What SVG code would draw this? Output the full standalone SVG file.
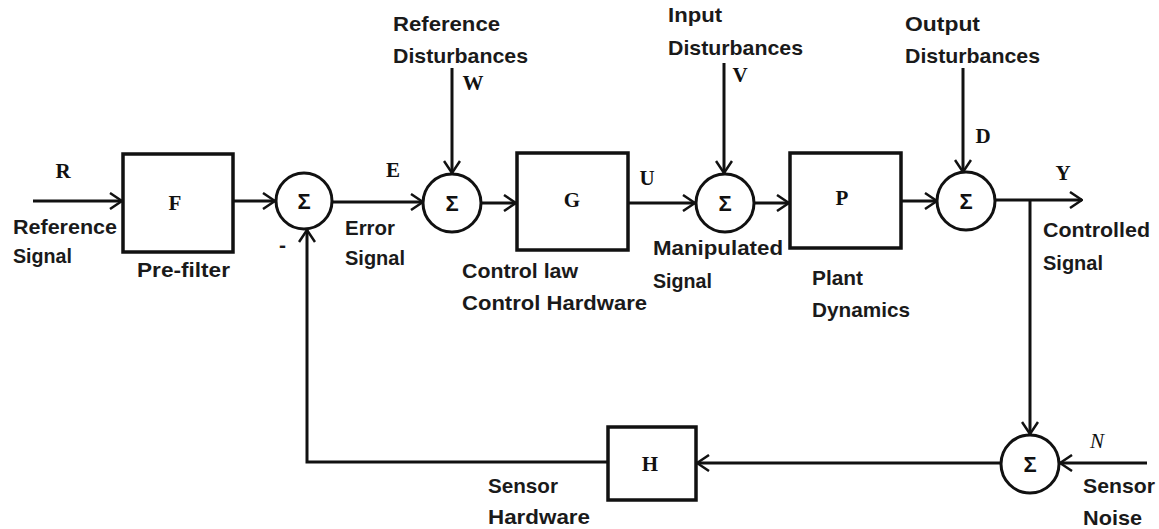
<svg xmlns="http://www.w3.org/2000/svg" width="1159" height="529" viewBox="0 0 1159 529">
<style>
.lbl{font-family:"Liberation Sans",Arial,sans-serif;font-weight:bold;font-size:21px;fill:#1a1a1a}
.sym{font-family:"Liberation Serif","Times New Roman",serif;font-weight:bold;font-size:21px;fill:#111;text-anchor:middle}
.sig{font-family:"Liberation Sans",Arial,sans-serif;font-weight:bold;font-size:22px;fill:#111;text-anchor:middle}
.box{fill:#fff;stroke:#111;stroke-width:3.5}
.sum{fill:#fff;stroke:#111;stroke-width:3}
.wire{fill:none;stroke:#111;stroke-width:3}
.arr{marker-end:url(#ah)}
</style>
<defs>
<marker id="ah" markerUnits="userSpaceOnUse" viewBox="0 0 14 18" markerWidth="14" markerHeight="18" refX="13" refY="9" orient="auto">
<path d="M1,1 L13,9 L1,17" fill="none" stroke="#111" stroke-width="2.5"/>
</marker>
</defs>
<rect width="1159" height="529" fill="#fff"/>
<g id="connectors">
<path class="wire arr" d="M33,201 H122"/>
<path class="wire arr" d="M233,201 H275"/>
<path class="wire arr" d="M333,202 H423"/>
<path class="wire arr" d="M452,68 V173"/>
<path class="wire arr" d="M481,203 H516"/>
<path class="wire arr" d="M628,203 H695"/>
<path class="wire arr" d="M724,63 V173"/>
<path class="wire arr" d="M754,203 H789"/>
<path class="wire arr" d="M901,201 H937"/>
<path class="wire arr" d="M963,68 V172"/>
<path class="wire arr" d="M995,200 H1082"/>
<path class="wire arr" d="M1030,200 V434"/>
<path class="wire arr" d="M1147,463 H1060"/>
<path class="wire arr" d="M1001,463 H697"/>
<path class="wire arr" d="M608,462 H307 V230"/>
</g>
<g id="node-F"><rect class="box" x="123" y="154" width="110" height="98"/><text class="sym" x="175" y="210">F</text></g>
<g id="node-sum1"><circle class="sum" cx="304" cy="201" r="28"/><text class="sig" x="304" y="209">Σ</text></g>
<g id="node-sum2"><circle class="sum" cx="452" cy="203" r="29"/><text class="sig" x="452" y="211">Σ</text></g>
<g id="node-G"><rect class="box" x="517" y="153" width="111" height="97"/><text class="sym" x="572" y="207">G</text></g>
<g id="node-sum3"><circle class="sum" cx="725" cy="203" r="29"/><text class="sig" x="725" y="211">Σ</text></g>
<g id="node-P"><rect class="box" x="790" y="153" width="111" height="95"/><text class="sym" x="842" y="205">P</text></g>
<g id="node-sum4"><circle class="sum" cx="966" cy="201" r="29"/><text class="sig" x="966" y="209">Σ</text></g>
<g id="node-sum5"><circle class="sum" cx="1030" cy="464" r="29"/><text class="sig" x="1030" y="472">Σ</text></g>
<g id="node-H"><rect class="box" x="608" y="427" width="88" height="73"/><text class="sym" x="650" y="471">H</text></g>
<g id="labels">
<text class="sym" x="63" y="178">R</text>
<text class="lbl" x="13" y="234" textLength="104" lengthAdjust="spacingAndGlyphs">Reference</text>
<text class="lbl" x="13" y="263" textLength="59" lengthAdjust="spacingAndGlyphs">Signal</text>
<text class="lbl" x="137" y="277" textLength="93" lengthAdjust="spacingAndGlyphs">Pre-filter</text>
<text class="lbl" x="279" y="252">-</text>
<text class="sym" x="393" y="177">E</text>
<text class="lbl" x="345" y="235" textLength="50" lengthAdjust="spacingAndGlyphs">Error</text>
<text class="lbl" x="345" y="265" textLength="60" lengthAdjust="spacingAndGlyphs">Signal</text>
<text class="lbl" x="393" y="31" textLength="107" lengthAdjust="spacingAndGlyphs">Reference</text>
<text class="lbl" x="393" y="63" textLength="135" lengthAdjust="spacingAndGlyphs">Disturbances</text>
<text class="sym" x="473" y="90">W</text>
<text class="sym" x="647" y="185">U</text>
<text class="lbl" x="462" y="278" textLength="116" lengthAdjust="spacingAndGlyphs">Control law</text>
<text class="lbl" x="462" y="310" textLength="185" lengthAdjust="spacingAndGlyphs">Control Hardware</text>
<text class="lbl" x="668" y="22" textLength="54" lengthAdjust="spacingAndGlyphs">Input</text>
<text class="lbl" x="668" y="55" textLength="135" lengthAdjust="spacingAndGlyphs">Disturbances</text>
<text class="sym" x="740" y="82">V</text>
<text class="lbl" x="653" y="255" textLength="130" lengthAdjust="spacingAndGlyphs">Manipulated</text>
<text class="lbl" x="653" y="288" textLength="59" lengthAdjust="spacingAndGlyphs">Signal</text>
<text class="lbl" x="812" y="285" textLength="51" lengthAdjust="spacingAndGlyphs">Plant</text>
<text class="lbl" x="812" y="317" textLength="98" lengthAdjust="spacingAndGlyphs">Dynamics</text>
<text class="lbl" x="905" y="31" textLength="75" lengthAdjust="spacingAndGlyphs">Output</text>
<text class="lbl" x="905" y="63" textLength="135" lengthAdjust="spacingAndGlyphs">Disturbances</text>
<text class="sym" x="983" y="143">D</text>
<text class="sym" x="1063" y="180">Y</text>
<text class="lbl" x="1043" y="237" textLength="107" lengthAdjust="spacingAndGlyphs">Controlled</text>
<text class="lbl" x="1043" y="270" textLength="60" lengthAdjust="spacingAndGlyphs">Signal</text>
<text class="lbl" x="488" y="493" textLength="70" lengthAdjust="spacingAndGlyphs">Sensor</text>
<text class="lbl" x="488" y="524" textLength="102" lengthAdjust="spacingAndGlyphs">Hardware</text>
<text class="sym" x="1097" y="448" style="font-weight:normal;font-style:italic">N</text>
<text class="lbl" x="1083" y="493" textLength="72" lengthAdjust="spacingAndGlyphs">Sensor</text>
<text class="lbl" x="1083" y="525" textLength="59" lengthAdjust="spacingAndGlyphs">Noise</text>
</g>
</svg>
